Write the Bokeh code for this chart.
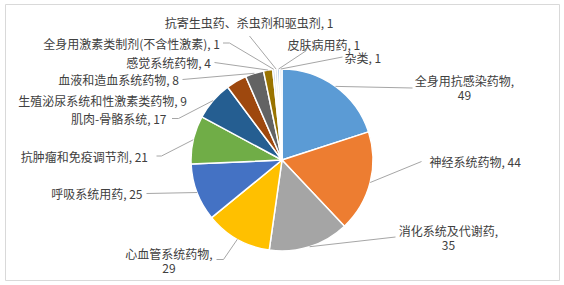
import numpy as np
from bokeh.plotting import figure
from bokeh.models import Range1d, ColumnDataSource
from bokeh.embed import file_html
from bokeh.resources import INLINE
from bokeh.core.properties import value

# ---------------- data ----------------
categories = [
    "全身用抗感染药物", "神经系统药物", "消化系统及代谢药", "心血管系统药物",
    "呼吸系统用药", "抗肿瘤和免疫调节剂", "肌肉-骨骼系统",
    "生殖泌尿系统和性激素类药物", "血液和造血系统药物", "感觉系统药物",
    "全身用激素类制剂(不含性激素)", "抗寄生虫药、杀虫剂和驱虫剂", "皮肤病用药", "杂类",
]
counts = [49, 44, 35, 29, 25, 21, 17, 9, 8, 4, 1, 1, 1, 1]
colors = [
    "#5B9BD5", "#ED7D31", "#A5A5A5", "#FFC000", "#4472C4", "#70AD47", "#255E91",
    "#9E480E", "#636363", "#997300", "#B4C7E7", "#D0D6DE", "#A9C4E4", "#DDE6F2",
]

# ---------------- layout (pixel coords, y downward) ----------------
W, H = 564, 285
CX, CY, R = 281.5, 159.5, 91.0
FONT = value("Noto Sans CJK SC")
TXT = "#404040"
LINE = "#A6A6A6"

# label placement: (mode, x, y, align)  mode 'one' = single line, 'two' = name over value
label_layout = [
    ("two", 464, 80, "center"),
    ("one", 429, 161, "left"),
    ("two", 448, 230, "center"),
    ("two", 168.5, 253, "center"),
    ("one", 142, 192.5, "right"),
    ("one", 147.5, 156, "right"),
    ("one", 166, 118, "right"),
    ("one", 186.5, 99.5, "right"),
    ("one", 178.5, 79, "right"),
    ("one", 210.5, 62, "right"),
    ("one", 219.5, 42.5, "right"),
    ("one", 248.5, 22, "center"),
    ("one", 287, 44, "left"),
    ("one", 344, 57, "left"),
]
# leader line waypoints from slice edge towards the label (None = no line)
leader_layout = [
    [(412, 87.5)],
    [(421, 161)],
    [(395, 236.5)],
    [(223, 259), (216, 259)],
    [(146, 193)],
    [(161, 155.5), (156, 155.5)],
    [(178, 118), (171.5, 118)],
    None,
    [(182, 79)],
    [(214, 62)],
    [(229, 42.5), (222.5, 42.5)],
    [(249, 35.5)],
    [(306, 50)],
    [(342, 56.5)],
]


def by(y):
    return H - y


p = figure(width=W, height=H, x_range=Range1d(5, 559), y_range=Range1d(5, 281),
           output_backend="svg", toolbar_location=None,
           x_axis_location=None, y_axis_location=None,
           min_border_left=5, min_border_right=5, min_border_top=4, min_border_bottom=5)
p.grid.visible = False
p.outline_line_color = "#D9D9D9"
p.outline_line_width = 1
p.background_fill_color = "white"
p.border_fill_color = "white"

vals = np.array(counts, dtype=float)
total = vals.sum()
cum1 = np.cumsum(vals)
cum0 = cum1 - vals
start = np.pi / 2 - 2 * np.pi * cum0 / total
end = np.pi / 2 - 2 * np.pi * cum1 / total

src = ColumnDataSource(dict(start=start, end=end, color=colors))
p.wedge(x=CX, y=by(CY), radius=R, start_angle="start", end_angle="end",
        direction="clock", fill_color="color", line_color="white", line_width=1.5,
        source=src)

# leader lines
mid = 2 * np.pi * (cum0 + vals / 2) / total
xs, ys = [], []
for i, pts in enumerate(leader_layout):
    if pts is None:
        continue
    ex = CX + R * np.sin(mid[i])
    ey = CY - R * np.cos(mid[i])
    lx = [ex] + [q[0] for q in pts]
    ly = [by(ey)] + [by(q[1]) for q in pts]
    xs.append(lx)
    ys.append(ly)
p.multi_line(xs=xs, ys=ys, line_color=LINE, line_width=1)

# labels
for align in ("left", "right", "center"):
    tx, ty, tt = [], [], []
    for i, (mode, x, y, a) in enumerate(label_layout):
        if a != align:
            continue
        if mode == "one":
            tx.append(x); ty.append(by(y)); tt.append(f"{categories[i]}, {counts[i]}")
        else:
            tx.append(x); ty.append(by(y)); tt.append(f"{categories[i]},")
            tx.append(x); ty.append(by(y + 14.5)); tt.append(f"{counts[i]}")
    if tx:
        p.text(x=tx, y=ty, text=tt, text_font=FONT, text_font_size="12px",
               text_color=TXT, text_align=align, text_baseline="middle")

open("out.html", "w").write(file_html(p, INLINE))
